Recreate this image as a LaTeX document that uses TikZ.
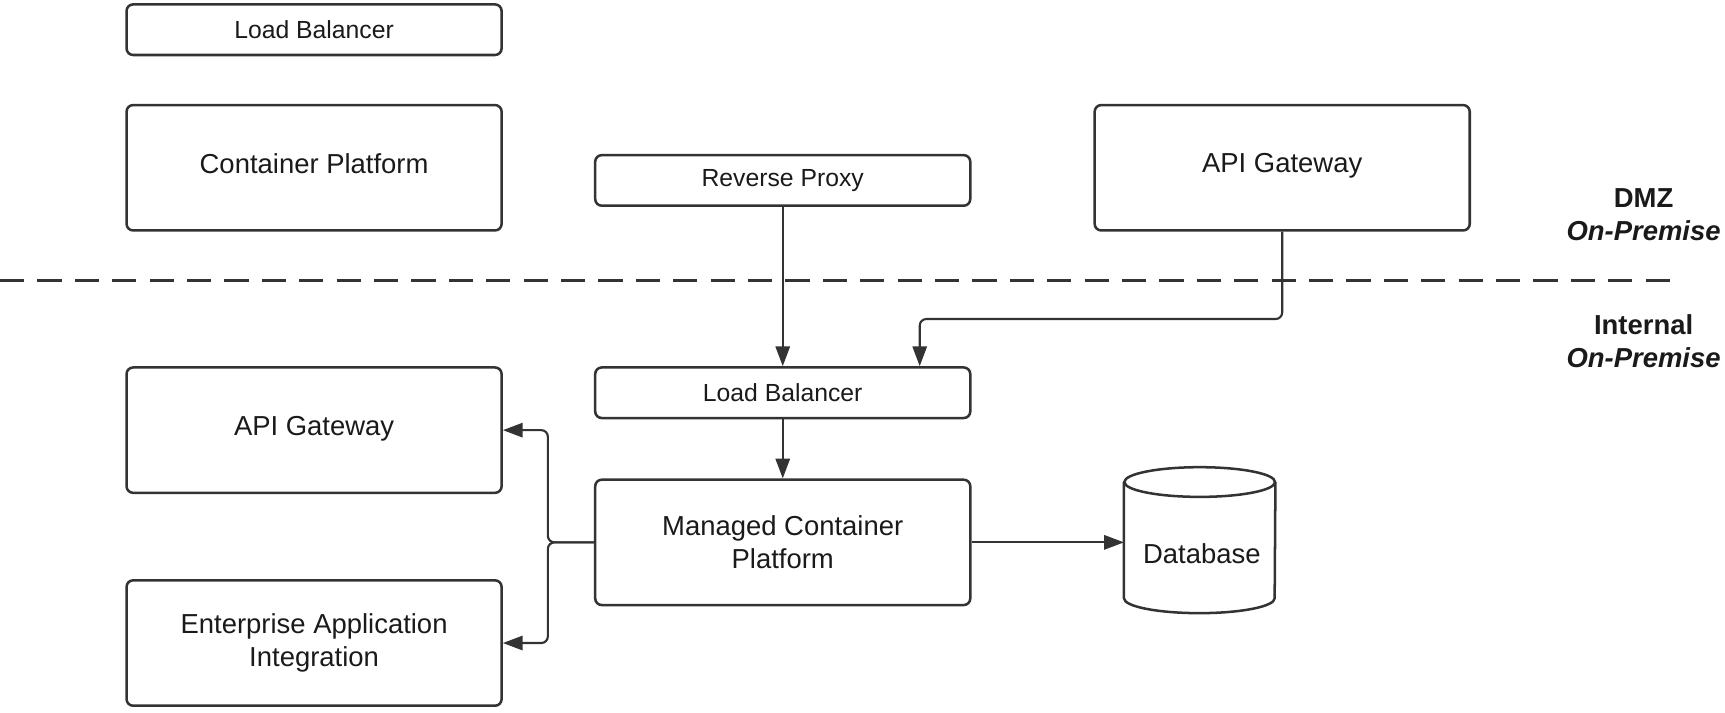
\documentclass[tikz,border=0pt]{standalone}
\usepackage{fontspec}
\setmainfont{Liberation Sans}
\usetikzlibrary{arrows.meta,calc}
\definecolor{ln}{HTML}{333333}
\definecolor{tx}{HTML}{1A1A1A}
\begin{document}
\begin{tikzpicture}[x=0.02cm,y=-0.02cm,
  box/.style={draw=ln, line width=1.3pt, rounded corners=0.12cm, minimum width=6.82cm, inner sep=0pt, align=center, text=tx, font=\fontsize{14.2}{17.1}\selectfont},
  smallbox/.style={box, minimum height=0.92cm, font=\fontsize{12.8}{15}\selectfont},
  bigbox/.style={box, minimum height=2.28cm},
  onelinebox/.style={bigbox, text depth=0.17cm},
  conn/.style={draw=ln, line width=1.1pt, rounded corners=0.12cm, -{Triangle[length=0.36cm,width=0.26cm]}},
  zone/.style={font=\bfseries\fontsize{14.2}{17.1}\selectfont, align=center, text=tx},
  dbbox/.style={draw=none, minimum width=2.74cm, minimum height=2.16cm, inner sep=0pt, text=tx, font=\fontsize{14.2}{17.1}\selectfont},
  dbline/.style={draw=ln, line width=1.3pt}
]
\useasboundingbox (0,0) rectangle (1568,648);

% DMZ
\node[smallbox] (lb1) at (285.5,27) {Load Balancer};
\node[onelinebox] (cp) at (285.5,152.5) {Container Platform};
\node[smallbox] (rp) at (711.5,164) {Reverse Proxy};
\node[onelinebox] (agw1) at (1165.5,152.5) {API Gateway};

% zone separator
\coordinate (d1) at (0,255);
\coordinate (d2) at (1520,255);
\draw[ln, line width=1.1pt, dash pattern=on 0.44cm off 0.24cm] (d1) -- (d2);
\node[zone] (dmz) at (1494,195) {DMZ\\\textit{On-Premise}};
\node[zone] (int) at (1494,310) {Internal\\\textit{On-Premise}};

% Internal
\node[smallbox] (lb2) at (711.5,357) {Load Balancer};
\node[onelinebox] (agw2) at (285.5,391) {API Gateway};
\node[bigbox] (eai) at (285.5,584.5) {Enterprise Application\\Integration};
\node[bigbox] (mcp) at (711.5,493) {Managed Container\\Platform};
\node[dbbox] (db) at (1090.5,503) {\hspace*{0.08cm}Database};

% database cylinder
\draw[dbline] ($(db.north)+(0,0.21cm)$) ellipse [x radius=1.37cm, y radius=0.27cm];
\draw[dbline] ($(db.north west)+(0,0.21cm)$) -- ($(db.south west)+(0,0.27cm)$)
  arc[start angle=180, end angle=360, x radius=1.37cm, y radius=0.27cm]
  -- ($(db.north east)+(0,0.21cm)$);

% connectors
\draw[conn] (rp) -- (lb2);
\coordinate (k) at (836,290);
\draw[conn] (agw1.south) |- (k) -- (k |- lb2.north);
\draw[conn] (lb2) -- (mcp);
\draw[conn] (mcp.east) -- (mcp.east -| db.west);
\coordinate (j) at (498,493);
\draw[conn] (mcp.west) -- (j) |- (agw2.east);
\draw[conn] (mcp.west) -- (j) |- (eai.east);
\end{tikzpicture}
\end{document}
